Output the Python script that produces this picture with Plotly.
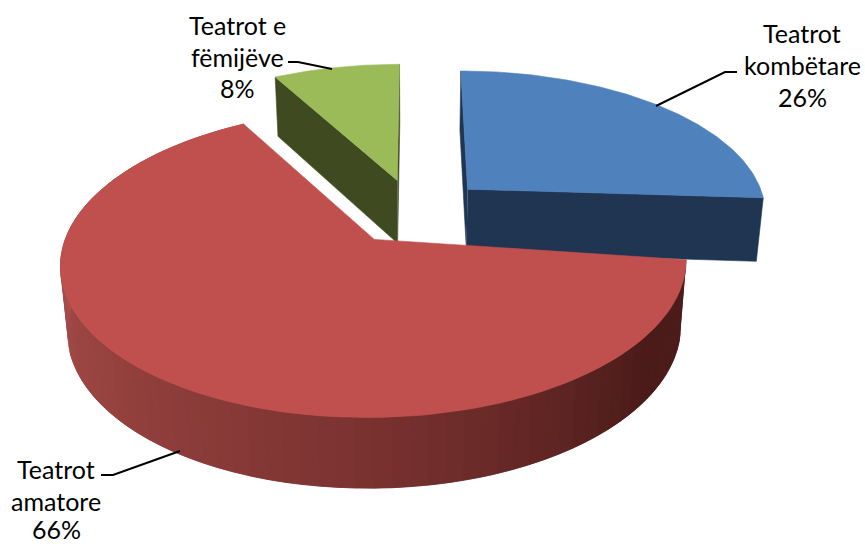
import numpy as np
import plotly.graph_objects as go

# data
teatrot = ["Teatrot kombëtare", "Teatrot amatore", "Teatrot e fëmijëve"]
perqindje = [26, 66, 8]

ngjyra_siper = ["#4F81BD", "#C0504D", "#9BBB59"]
ngjyra_anash = ["#1F3552", "#4A1B19", "#3F4A21"]

# rreshtat e etiketave: (x, y) ne piksela
etiketa = [
    (["Teatrot", "kombëtare", "26%"], 802, [33, 65, 97]),
    (["Teatrot", "amatore", "66%"], 56, [469, 501, 529]),
    (["Teatrot e", "fëmijëve", "8%"], 237, [25, 57, 88]),
]
vijat = [
    "M 737 72 L 725 72 L 656 106",
    "M 101 475 L 113 475 L 180 451",
    "M 288 62 L 298 62 L 332 69",
]

# projeksioni i pseudo-3D
QX, QY = 415, 211
SHK_X, SHK_Y = 300, 142
K = 0.15
LARTESI = 64
KONVERGJENCE = 0.02
SHPERTHIM_X, SHPERTHIM_Y = 0.246, 0.23
# shtremberimi i kendeve te fotos origjinale (grade), sipas fetes
KORRIGJIM = [(0, 0), (4, -1), (0, 0)]


def projekto(x, y, z=0.0):
    w = 1 + K * np.asarray(y)
    u = SHK_X * np.asarray(x) / w * (1 - KONVERGJENCE * z / LARTESI)
    return QX + u, QY - SHK_Y * np.asarray(y) / w + z / np.sqrt(w)


def pika_harku(a0, a1, n):
    a = np.radians(np.linspace(a0, a1, n))
    return np.sin(a), np.cos(a)


def poligon(fig, x, y, ngjyra):
    fig.add_trace(go.Scatter(
        x=list(x), y=list(y), mode="lines", fill="toself", fillcolor=ngjyra,
        line=dict(color=ngjyra, width=0.6), hoverinfo="skip", showlegend=False,
    ))


def ngjyra_muri(a):
    # hija e murit te kuq sipas kendit
    pikat = [90, 125, 180, 230, 270]
    r = np.interp(a, pikat, [78, 74, 122, 150, 168])
    g = np.interp(a, pikat, [30, 27, 50, 66, 78])
    b = np.interp(a, pikat, [28, 25, 48, 63, 75])
    return f"rgb({r:.0f},{g:.0f},{b:.0f})"


kufijte = np.cumsum([0] + perqindje) * 3.6
fig = go.Figure()

# radha e vizatimit: e gjelber, blu, e kuqe
for i in [2, 0, 1]:
    a0, a1 = kufijte[i], kufijte[i + 1]
    mes = np.radians((a0 + a1) / 2)
    dx, dy = SHPERTHIM_X * np.sin(mes), SHPERTHIM_Y * np.cos(mes)
    a0, a1 = a0 + KORRIGJIM[i][0], a1 + KORRIGJIM[i][1]

    hx, hy = pika_harku(a0, a1, 120)
    hx, hy = hx + dx, hy + dy

    if i == 1:
        # muri i jashtem me gradient; cdo pjese mbulon edhe hapin tjeter qe te mos mbeten vija
        hapat = np.linspace(a0, a1, 81)
        hap = hapat[1] - hapat[0]
        for s in hapat[:-1]:
            sx, sy = pika_harku(s, min(s + 2 * hap, a1), 4)
            sx, sy = sx + dx, sy + dy
            x1, y1 = projekto(sx, sy)
            x2, y2 = projekto(sx, sy, LARTESI)
            poligon(fig, np.r_[x1, x2[::-1]], np.r_[y1, y2[::-1]], ngjyra_muri(s + hap / 2))
    else:
        # faqet radiale
        for skaj_x, skaj_y in [(hx[0], hy[0]), (hx[-1], hy[-1])]:
            x1, y1 = projekto([dx, skaj_x], [dy, skaj_y])
            x2, y2 = projekto([dx, skaj_x], [dy, skaj_y], LARTESI)
            poligon(fig, np.r_[x1, x2[::-1]], np.r_[y1, y2[::-1]], ngjyra_anash[i])

    # faqja e siperme
    x, y = projekto(np.r_[dx, hx], np.r_[dy, hy])
    poligon(fig, np.r_[x, x[0]], np.r_[y, y[0]], ngjyra_siper[i])

for rreshta, x, ys in etiketa:
    for t, y in zip(rreshta, ys):
        fig.add_annotation(
            x=x, y=y, text=t, showarrow=False, xanchor="center", yanchor="middle",
            font=dict(family="Lato", size=25, color="#000000"),
        )

fig.update_layout(
    width=865, height=544,
    margin=dict(l=0, r=0, t=0, b=0),
    paper_bgcolor="white", plot_bgcolor="white",
    showlegend=False,
    xaxis=dict(range=[0, 865], visible=False),
    yaxis=dict(range=[544, 0], visible=False),
    shapes=[dict(type="path", path=p, line=dict(color="#000000", width=2)) for p in vijat],
)

# faqja ka margin 8px si parazgjedhje
fig.write_html("out.html", config={"displayModeBar": False}, post_script="document.body.style.margin='0';")
